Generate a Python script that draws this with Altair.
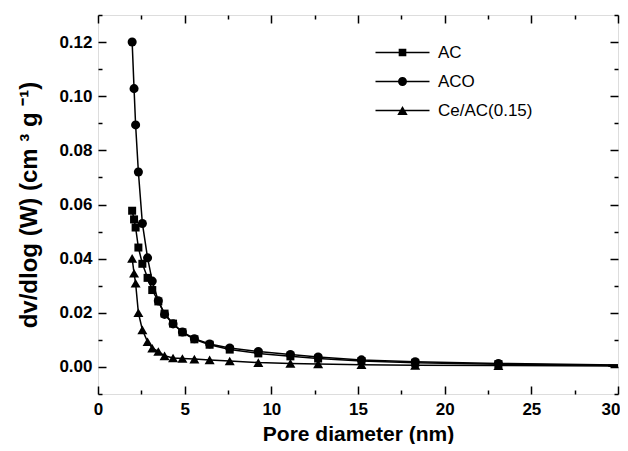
import altair as alt
import pandas as pd

# ---- data ----
pore = [1.97, 2.08, 2.17, 2.33, 2.56, 2.86, 3.13, 3.48, 3.84, 4.33, 4.87,
        5.56, 6.44, 7.6, 9.25, 11.1, 12.7, 15.2, 18.3, 23.1, 31.0]
ac = [0.0577, 0.0545, 0.0515, 0.0441, 0.0381, 0.0329, 0.0284, 0.0242, 0.0197,
      0.0160, 0.0128, 0.0102, 0.0082, 0.0064, 0.0050, 0.0039, 0.0031, 0.0022,
      0.0015, 0.0010, 0.0005]
aco = [0.1200, 0.1028, 0.0894, 0.0720, 0.0530, 0.0403, 0.0317, 0.0244, 0.0194,
       0.0159, 0.0129, 0.0104, 0.0085, 0.0070, 0.0057, 0.0046, 0.0037, 0.0026,
       0.0019, 0.0013, 0.0006]
ce = [0.0401, 0.0346, 0.0309, 0.0200, 0.0137, 0.0093, 0.0069, 0.0057, 0.0041,
      0.0033, 0.0031, 0.0029, 0.0026, 0.0022, 0.0016, 0.0013, 0.0011, 0.0008,
      0.0006, 0.0005, 0.0003]
series_names = ["AC", "ACO", "Ce/AC(0.15)"]
x_major = [0, 5, 10, 15, 20, 25, 30]
x_all = [0, 2.5, 5, 7.5, 10, 12.5, 15, 17.5, 20, 22.5, 25, 27.5, 30]
y_major = [0.00, 0.02, 0.04, 0.06, 0.08, 0.10, 0.12]
y_all = [-0.01, 0.0, 0.01, 0.02, 0.03, 0.04, 0.05, 0.06, 0.07, 0.08, 0.09,
         0.10, 0.11, 0.12, 0.13]

rows = []
for name, vals in zip(series_names, [ac, aco, ce]):
    for xv, yv in zip(pore, vals):
        rows.append({"series": name, "x": xv, "y": yv})
df = pd.DataFrame(rows)

W, H = 520, 379
FONT = "Liberation Sans"

xs = alt.Scale(domain=[0, 30], nice=False, zero=False)
ys = alt.Scale(domain=[-0.01, 0.13], nice=False, zero=False)

x_enc = alt.X("x:Q", scale=xs, title="Pore diameter (nm)",
              axis=alt.Axis(orient="bottom", values=x_major, format="d",
                            ticks=False, tickSize=0, domain=False, grid=False,
                            labelFlush=False, labelPadding=7,
                            labelAlign={"condition": {"test": "datum.value === 30",
                                                      "value": "right"},
                                        "value": "center"},
                            labelOffset={"condition": {"test": "datum.value === 30",
                                                       "value": 2},
                                         "value": 0},
                            labelFont=FONT, labelFontSize=17, labelFontWeight="bold",
                            labelColor="black", titleFont=FONT, titleFontSize=21,
                            titleFontWeight="bold", titleColor="black",
                            titlePadding=6))
y_enc = alt.Y("y:Q", scale=ys, title="dv/dlog (W) (cm ³  g ⁻¹)",
              axis=alt.Axis(orient="left", values=y_major, format=".2f",
                            ticks=False, tickSize=0, domain=False, grid=False,
                            labelFlush=False, labelPadding=6,
                            labelFont=FONT, labelFontSize=17, labelFontWeight="bold",
                            labelColor="black", titleFont=FONT, titleFontSize=24,
                            titleFontWeight="bold", titleColor="black",
                            titlePadding=17))

base = alt.Chart(df)
lines = base.mark_line(color="black", strokeWidth=1.5, clip=True).encode(
    x=x_enc, y=y_enc, detail="series:N")
points = base.mark_point(filled=True, color="black", opacity=1, clip=True).encode(
    x=x_enc, y=y_enc,
    shape=alt.Shape("series:N", scale=alt.Scale(domain=series_names,
                    range=["square", "circle", "triangle-up"]), legend=None),
    size=alt.Size("series:N", scale=alt.Scale(domain=series_names,
                  range=[64, 100, 85]), legend=None))

# legend glyphs: a thin bar (the line) plus the marker, both filled
legend_paths = [
    "M-6,-0.17H6V0.17H-6ZM-0.85,-0.85H0.85V0.85H-0.85Z",
    "M-6,-0.17H6V0.17H-6ZM1,0A1,1,0,1,1,-1,0A1,1,0,1,1,1,0Z",
    "M-6,-0.17H6V0.17H-6ZM0,-1.0L1.15,1.0H-1.15Z",
]
legend_pts = base.transform_filter(alt.datum.x > 30).mark_point(
    filled=True, color="black", opacity=1, size=81, clip=True).encode(
    x=x_enc, y=y_enc,
    shape=alt.Shape("series:N", scale=alt.Scale(domain=series_names, range=legend_paths),
                    legend=alt.Legend(orient="none", legendX=296, legendY=29, title=None,
                                      padding=0, labelFont=FONT, labelFontSize=17,
                                      labelColor="black", labelOffset=27,
                                      symbolSize=81, symbolStrokeWidth=0,
                                      symbolFillColor="black",
                                      symbolOpacity=1, rowPadding=11)))

data_layer = alt.layer(lines, points, legend_pts).resolve_scale(shape="independent",
                                                                 size="independent")

x_cond = {"condition": {"test": "datum.value % 5 === 0", "value": 8}, "value": 4}
y_cond = {"condition": {"test": "round(datum.value * 100) % 2 === 0", "value": 8}, "value": 4}


def tick_layer(xo, yo):
    return base.mark_point(opacity=0, clip=True).encode(
        x=alt.X("x:Q", scale=xs, title=None,
                axis=alt.Axis(orient=xo, offset=-H, values=x_all, labels=False,
                              domain=False, grid=False, tickSize=x_cond,
                              tickWidth=1.5, tickColor="black")),
        y=alt.Y("y:Q", scale=ys, title=None,
                axis=alt.Axis(orient=yo, offset=-W, values=y_all, labels=False,
                              domain=False, grid=False, tickSize=y_cond,
                              tickWidth=1.5, tickColor="black")))


ticks_a = tick_layer("top", "right")     # ticks on bottom & left edges, inward
ticks_b = tick_layer("bottom", "left")   # ticks on top & right edges, inward

chart = alt.layer(data_layer, ticks_a, ticks_b).resolve_scale(
    x="independent", y="independent").properties(
    width=W, height=H,
    padding={"left": 9, "top": 6, "right": 0, "bottom": 0},
    background="white",
).configure_view(stroke="black", strokeWidth=2).configure(font=FONT)

chart.save("out.html", embed_options={"renderer": "svg", "actions": False})
